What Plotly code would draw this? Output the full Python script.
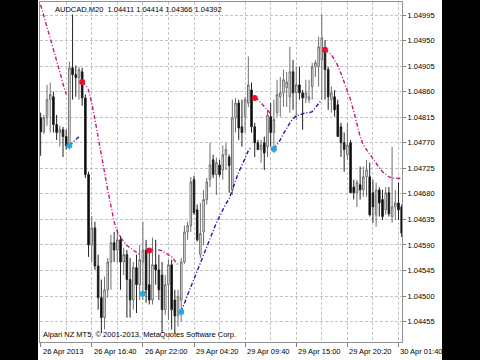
import plotly.graph_objects as go

# ---- data (AUDCAD M20), bar index 0..113 ----
opens = [1.04814,1.04789,1.04814,1.04846,1.04851,1.04802,1.04788,1.04793,1.04781,1.04765,
         1.04902,1.04890,1.04885,1.04895,1.04849,1.04714,1.04590,1.04620,1.04553,1.04497,
         1.04462,1.04511,1.04560,1.04594,1.04581,1.04599,1.04560,1.04573,1.04529,1.04493,
         1.04550,1.04520,1.04560,1.04581,1.04520,1.04493,1.04555,1.04546,1.04537,1.04476,
         1.04520,1.04555,1.04493,1.04465,1.04493,1.04560,1.04613,1.04624,1.04705,1.04652,
         1.04573,1.04613,1.04670,1.04705,1.04740,1.04714,1.04731,1.04722,1.04749,1.04745,
         1.04687,1.04814,1.04840,1.04798,1.04816,1.04840,1.04863,1.04798,1.04770,1.04758,
         1.04770,1.04763,1.04816,1.04788,1.04823,1.04851,1.04858,1.04867,1.04851,1.04895,
         1.04858,1.04872,1.04858,1.04849,1.04846,1.04869,1.04904,1.04904,1.04916,1.04937,
         1.04899,1.04846,1.04851,1.04837,1.04798,1.04770,1.04749,1.04770,1.04692,1.04682,
         1.04696,1.04687,1.04710,1.04710,1.04682,1.04643,1.04687,1.04670,1.04652,1.04682,
         1.04640,1.04657,1.04664,1.04657]
highs = [1.04823,1.04819,1.04872,1.04876,1.04860,1.04819,1.04800,1.04798,1.04793,1.04913,
         1.04996,1.04906,1.04904,1.04902,1.04855,1.04719,1.04641,1.04631,1.04573,1.04529,
         1.04534,1.04567,1.04608,1.04613,1.04617,1.04606,1.04585,1.04581,1.04567,1.04560,
         1.04573,1.04590,1.04631,1.04599,1.04581,1.04603,1.04599,1.04573,1.04560,1.04537,
         1.04564,1.04564,1.04511,1.04511,1.04567,1.04624,1.04631,1.04710,1.04712,1.04661,
         1.04664,1.04687,1.04708,1.04770,1.04749,1.04744,1.04740,1.04765,1.04770,1.04749,
         1.04846,1.04849,1.04846,1.04846,1.04851,1.04922,1.04876,1.04805,1.04775,1.04775,
         1.04781,1.04828,1.04840,1.04846,1.04881,1.04886,1.04899,1.04895,1.04939,1.04916,
         1.04904,1.04904,1.04863,1.04881,1.04881,1.04911,1.04916,1.04957,1.04996,1.04951,
         1.04904,1.04869,1.04863,1.04846,1.04805,1.04788,1.04805,1.04775,1.04705,1.04705,
         1.04728,1.04728,1.04740,1.04735,1.04705,1.04700,1.04692,1.04687,1.04692,1.04692,
         1.04763,1.04687,1.04700,1.04661]
lows = [1.04747,1.04786,1.04800,1.04788,1.04788,1.04775,1.04763,1.04745,1.04758,1.04758,
        1.04846,1.04851,1.04846,1.04835,1.04708,1.04569,1.04560,1.04546,1.04476,1.04435,
        1.04441,1.04497,1.04511,1.04560,1.04559,1.04511,1.04537,1.04462,1.04462,1.04476,
        1.04470,1.04493,1.04493,1.04488,1.04485,1.04485,1.04520,1.04493,1.04435,1.04467,
        1.04458,1.04441,1.04435,1.04446,1.04455,1.04557,1.04599,1.04613,1.04643,1.04596,
        1.04567,1.04589,1.04661,1.04692,1.04708,1.04678,1.04710,1.04705,1.04722,1.04682,
        1.04678,1.04788,1.04775,1.04763,1.04788,1.04833,1.04788,1.04745,1.04758,1.04735,
        1.04722,1.04745,1.04763,1.04752,1.04816,1.04816,1.04833,1.04833,1.04823,1.04828,
        1.04811,1.04846,1.04793,1.04840,1.04840,1.04846,1.04886,1.04869,1.04846,1.04846,
        1.04828,1.04823,1.04816,1.04781,1.04745,1.04719,1.04740,1.04682,1.04670,1.04657,
        1.04670,1.04675,1.04675,1.04640,1.04629,1.04622,1.04640,1.04634,1.04643,1.04640,
        1.04629,1.04634,1.04634,1.04604]
closes = [1.04789,1.04814,1.04846,1.04855,1.04802,1.04788,1.04793,1.04781,1.04765,1.04902,
          1.04890,1.04885,1.04899,1.04849,1.04714,1.04590,1.04620,1.04553,1.04497,1.04462,
          1.04511,1.04560,1.04594,1.04581,1.04599,1.04560,1.04573,1.04529,1.04493,1.04550,
          1.04520,1.04564,1.04581,1.04511,1.04493,1.04555,1.04546,1.04511,1.04476,1.04520,
          1.04555,1.04476,1.04465,1.04499,1.04560,1.04613,1.04624,1.04701,1.04647,1.04599,
          1.04610,1.04670,1.04701,1.04731,1.04714,1.04735,1.04714,1.04749,1.04758,1.04730,
          1.04814,1.04840,1.04796,1.04788,1.04846,1.04872,1.04798,1.04770,1.04758,1.04766,
          1.04752,1.04819,1.04788,1.04811,1.04855,1.04858,1.04881,1.04877,1.04895,1.04858,
          1.04872,1.04858,1.04849,1.04858,1.04851,1.04904,1.04911,1.04939,1.04955,1.04899,
          1.04851,1.04858,1.04828,1.04781,1.04770,1.04758,1.04766,1.04682,1.04682,1.04700,
          1.04687,1.04710,1.04722,1.04643,1.04657,1.04687,1.04664,1.04640,1.04682,1.04645,
          1.04657,1.04664,1.04652,1.04611]

N = None
# trailing-stop indicator: resistance (above price) and support (below price)
resist = ([1.05013,1.04994,1.04974,1.04955,1.04934,1.04915,1.04895,1.04874,1.04855]
          + [N]*4
          + [1.04877,1.04872,1.04863,1.04840,1.04811,1.04779,1.04749,1.04719,1.04687,1.04659,
             1.04631,1.04613,1.04603,1.04596,1.04589,1.04585,1.04581,1.04578,1.04573]
          + [N]*2
          + [1.04580,1.04581,1.04581,1.04581,1.04580,1.04576,1.04573,1.04569,1.04562,1.04555]
          + [N]*23
          + [1.04849,1.04846,1.04840,1.04833,1.04826,1.04821]
          + [N]*16
          + [1.04934,1.04930,1.04925,1.04916,1.04906,1.04892,1.04877,1.04862,1.04846,1.04825,
             1.04802,1.04781,1.04766,1.04758,1.04749,1.04740,1.04733,1.04726,1.04719,1.04714,
             1.04710,1.04708,1.04708,1.04707,1.04707])
support = ([N]*9
           + [1.04765,1.04770,1.04775,1.04781]
           + [N]*19
           + [1.04504,1.04507]
           + [N]*10
           + [1.04472,1.04488,1.04502,1.04516,1.04530,1.04544,1.04559,1.04574,1.04589,1.04603,
              1.04615,1.04629,1.04640,1.04652,1.04663,1.04671,1.04687,1.04703,1.04719,1.04730,
              1.04744,1.04756,1.04763]
           + [N]*6
           + [1.04759,1.04766,1.04775,1.04786,1.04796,1.04805,1.04812,1.04818,1.04819,1.04821,
              1.04823,1.04823,1.04825,1.04832,1.04839,1.04846]
           + [N]*25)

price_ticks = [1.04455,1.04500,1.04545,1.04590,1.04635,1.04680,1.04725,1.04770,
               1.04815,1.04860,1.04905,1.04950,1.04995]
time_tick_bars = [0,16,32,48,64,80,96,112]
time_tick_labels = ["26 Apr 2013","26 Apr 16:40","26 Apr 22:00","29 Apr 04:20",
                    "29 Apr 09:40","29 Apr 15:00","29 Apr 20:20","30 Apr 01:40"]
header = "AUDCAD,M20  1.04411 1.04414 1.04366 1.04392"
footer = "Alpari NZ MT5, \u00a9 2001-2013, MetaQuotes Software Corp."
last_price = 1.04418

bars = list(range(len(opens)))
FONT = "Liberation Sans"

fig = go.Figure()
fig.add_trace(go.Candlestick(
    x=bars, open=opens, high=highs, low=lows, close=closes,
    increasing=dict(line=dict(color="#6e6e6e", width=1), fillcolor="#ffffff"),
    decreasing=dict(line=dict(color="#222222", width=1), fillcolor="#000000"),
    whiskerwidth=0, showlegend=False, hoverinfo="skip"))

fig.add_trace(go.Scatter(x=bars, y=resist, mode="lines", connectgaps=False,
                         line=dict(color="#C8177F", width=1.4, dash="4px,2px,1px,2px"),
                         showlegend=False, hoverinfo="skip"))
fig.add_trace(go.Scatter(x=bars, y=support, mode="lines", connectgaps=False,
                         line=dict(color="#1B1BB0", width=1.4, dash="4px,2px,1px,2px"),
                         showlegend=False, hoverinfo="skip"))

def starts(series):
    xs, ys = [], []
    for i, v in enumerate(series):
        if v is not None and i > 0 and series[i - 1] is None:
            xs.append(i); ys.append(v)
    return xs, ys

rx, ry = starts(resist)
sx, sy = starts(support)
fig.add_trace(go.Scatter(x=rx, y=ry, mode="markers",
                         marker=dict(color="#E8112D", size=6), showlegend=False, hoverinfo="skip"))
fig.add_trace(go.Scatter(x=sx, y=sy, mode="markers",
                         marker=dict(color="#2AA6E6", size=6), showlegend=False, hoverinfo="skip"))

# white chart panel on black letterbox
fig.add_shape(type="rect", xref="paper", yref="paper", x0=-0.0055, x1=1.1105, y0=-0.07, y1=1.02,
              fillcolor="white", line=dict(width=0), layer="below")

annotations = []
for b, t in zip(time_tick_bars, time_tick_labels):
    annotations.append(dict(x=b, y=0, xref="x", yref="paper", text=t, showarrow=False,
                            xanchor="left", yanchor="top", xshift=0, yshift=-3,
                            font=dict(family=FONT, size=7.5, color="#000000")))
annotations.append(dict(x=0.035, y=1, xref="paper", yref="paper", text=header, showarrow=False,
                        xanchor="left", yanchor="top", yshift=-1,
                        font=dict(family=FONT, size=7.5, color="#000000")))
annotations.append(dict(x=0.004, y=0.003, xref="paper", yref="paper", text=footer, showarrow=False,
                        xanchor="left", yanchor="bottom",
                        font=dict(family=FONT, size=7.5, color="#000000")))
annotations.append(dict(x=1, y=last_price, xref="paper", yref="y", text=last_price and f"{last_price:.5f}",
                        showarrow=False, xanchor="left", yanchor="middle", xshift=2,
                        bgcolor="#A8A8A8", borderpad=1,
                        font=dict(family=FONT, size=7.5, color="#ffffff")))

fig.update_layout(
    width=480, height=360,
    margin=dict(l=40, r=78, t=2, b=18),
    paper_bgcolor="black", plot_bgcolor="white",
    annotations=annotations,
    xaxis=dict(range=[-0.2, 113.1], rangeslider=dict(visible=False),
               tickmode="array", tickvals=time_tick_bars, showticklabels=False,
               ticks="outside", ticklen=4, tickcolor="#808080",
               showgrid=True, gridcolor="#C4C4C4", griddash="3px,2px", gridwidth=1,
               minor=dict(tickmode="linear", tick0=8, dtick=16, showgrid=True,
                          gridcolor="#C4C4C4", griddash="3px,2px", ticks=""),
               showline=True, linecolor="#909090", linewidth=1, mirror=True,
               zeroline=False, fixedrange=True),
    yaxis=dict(range=[1.04419, 1.05018], side="right",
               tickmode="array", tickvals=price_ticks, tickformat=".5f",
               ticks="outside", ticklen=3, tickcolor="#808080",
               tickfont=dict(family=FONT, size=7.5, color="#000000"),
               showgrid=True, gridcolor="#C4C4C4", griddash="3px,2px", gridwidth=1,
               showline=True, linecolor="#909090", linewidth=1, mirror=True,
               zeroline=False, fixedrange=True),
)

fig.write_html("out.html")
